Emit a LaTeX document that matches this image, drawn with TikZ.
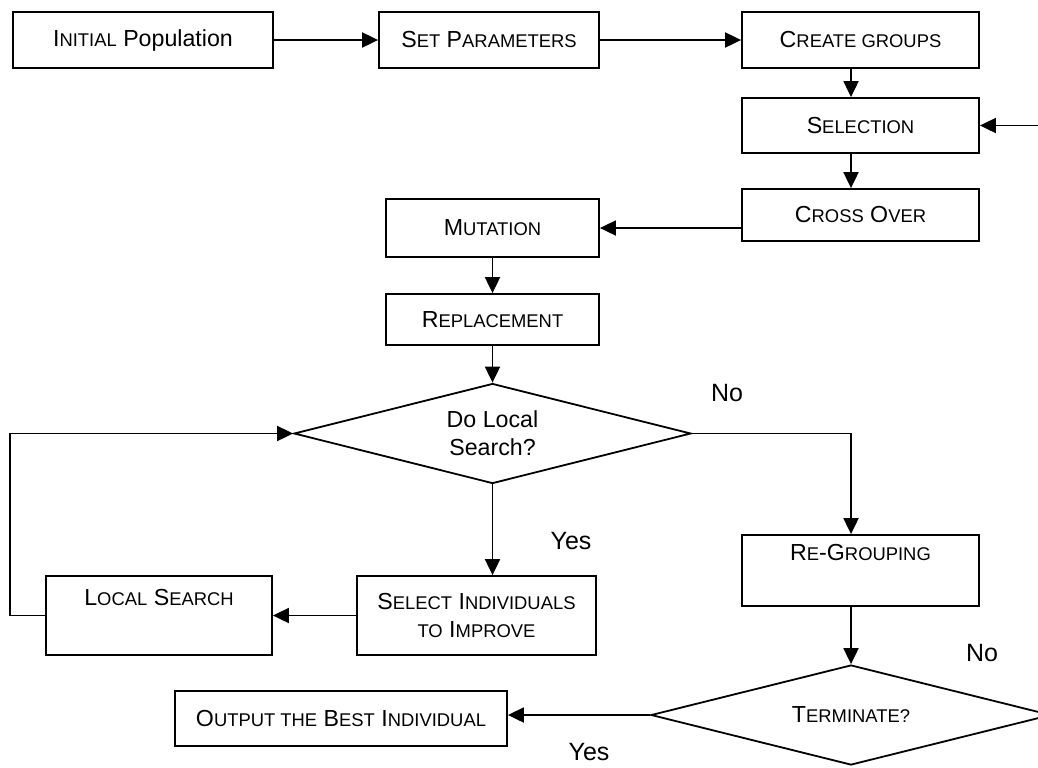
\documentclass[tikz,border=0pt]{standalone}
\usepackage{fontspec}
\setmainfont{Liberation Sans}
\usetikzlibrary{arrows.meta,shapes.geometric}
\newcommand{\sm}[1]{{\fontsize{9.2}{14}\selectfont #1}}
\tikzset{
  box/.style={draw, line width=0.9pt, rectangle, inner sep=2pt, align=center, font=\fontsize{11.6}{14}\selectfont},
  dec/.style={draw, line width=0.9pt, diamond, shape aspect=4, inner sep=0pt, align=center, font=\fontsize{11.6}{14}\selectfont},
  flow/.style={draw, line width=0.95pt, -{Triangle[length=8pt,width=7.5pt]}},
  lab/.style={font=\fontsize{12.5}{15}\selectfont},
}
\begin{document}
\begin{tikzpicture}[x=0.5pt, y=-0.5pt]
  \path[use as bounding box, clip] (0,0) rectangle (1038,767);
  % top row
  \node[box, minimum width=130pt, minimum height=28pt] (init) at (143,40) {I\sm{NITIAL} Population};
  \node[box, minimum width=110pt, minimum height=28pt] (setp) at (489,40) {S\sm{ET} P\sm{ARAMETERS}};
  \node[box, minimum width=118.5pt, minimum height=28pt] (cg) at (860.5,40) {C\sm{REATE GROUPS}};
  % right column
  \node[box, minimum width=118.5pt, minimum height=27.5pt] (sel) at (860.5,125.5) {S\sm{ELECTION}};
  \node[box, minimum width=118.5pt, minimum height=26pt] (cross) at (860.5,215) {C\sm{ROSS} O\sm{VER}};
  % middle column
  \node[box, minimum width=106.5pt, minimum height=29pt] (mut) at (492.5,228) {M\sm{UTATION}};
  \node[box, minimum width=106.5pt, minimum height=25.5pt] (rep) at (492.5,319.5) {R\sm{EPLACEMENT}};
  \node[dec, minimum width=198.5pt, minimum height=50pt] (dls) at (492.5,433.5) {Do Local\\Search?};
  \node[box, minimum width=119.5pt, minimum height=39.5pt] (sib) at (476.5,615.5) {S\sm{ELECT} I\sm{NDIVIDUALS}\\\sm{TO} I\sm{MPROVE}};
  \node[box, minimum width=113pt, minimum height=39.5pt] (ls) at (159,615.5) {L\sm{OCAL} S\sm{EARCH}\\\strut};
  \node[box, minimum width=118.5pt, minimum height=35.5pt] (rg) at (860.5,570.5) {R\sm{E}-G\sm{ROUPING}\\\strut};
  \node[dec, minimum width=200pt, minimum height=50pt] (term) at (851,715) {T\sm{ERMINATE?}};
  \node[box, minimum width=166pt, minimum height=27.5pt] (out) at (341,718.5) {O\sm{UTPUT THE} B\sm{EST} I\sm{NDIVIDUAL}};
  % labels
  \node[lab] (no1) at (727,393) {No};
  \node[lab] (yes1) at (571,541) {Yes};
  \node[lab] (no2) at (982,653) {No};
  \node[lab] (yes2) at (589,752) {Yes};
  % connectors
  \draw[flow] (init) -- (setp);
  \draw[flow] (setp) -- (cg);
  \draw[flow] (cg.south -| term.north) -- (sel.north -| term.north);
  \draw[flow] (sel.south -| term.north) -- (cross.north -| term.north);
  \draw[flow] (cross.west |- mut.east) -- (mut.east);
  \draw[flow] (mut) -- (rep);
  \draw[flow] (rep) -- (dls);
  \draw[flow] (dls.south) -- (dls.south |- sib.north);
  \draw[flow] (sib) -- (ls);
  \draw[flow] (ls.west) -- ++(-35,0) |- (dls.west);
  \draw[flow] (dls.east) -| (rg.north -| term.north);
  \draw[flow] (rg.south -| term.north) -- (term.north);
  \draw[flow] (term.west) -- (term.west -| out.east);
  \draw[flow] (term.east) |- (sel.east);
\end{tikzpicture}
\end{document}
